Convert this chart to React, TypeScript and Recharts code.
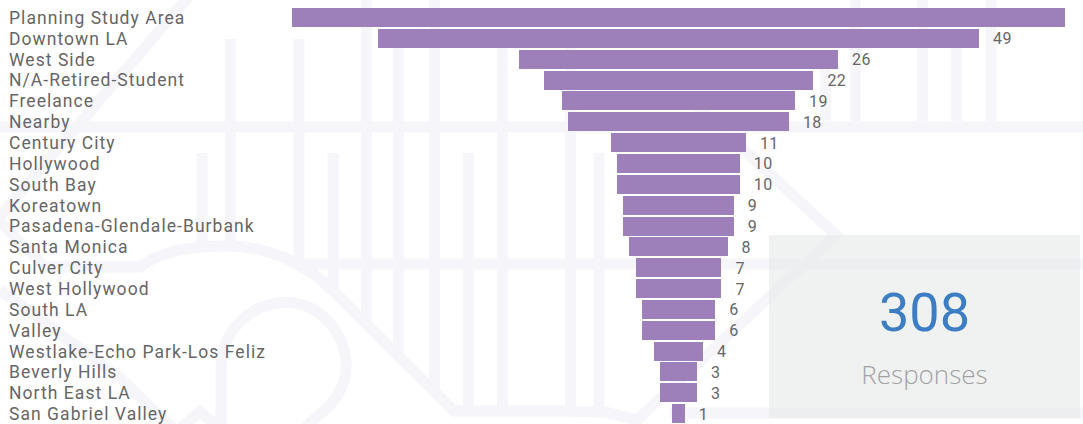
import { BarChart, Bar, XAxis, YAxis, LabelList, Rectangle } from 'recharts';

const areas = [
    'Planning Study Area', 'Downtown LA', 'West Side', 'N/A-Retired-Student', 'Freelance',
    'Nearby', 'Century City', 'Hollywood', 'South Bay', 'Koreatown',
    'Pasadena-Glendale-Burbank', 'Santa Monica', 'Culver City', 'West Hollywood', 'South LA',
    'Valley', 'Westlake-Echo Park-Los Feliz', 'Beverly Hills', 'North East LA', 'San Gabriel Valley',
];
const responses = [63, 49, 26, 22, 19, 18, 11, 10, 10, 9, 9, 8, 7, 7, 6, 6, 4, 3, 3, 1];

// funnel: each bar is a range centred on zero
const chartData = areas.map((name, i) => ({
    name,
    range: [-responses[i] / 2, responses[i] / 2],
}));

const FONT = 'Roboto, sans-serif';
const TEXT = '#666666';

// faint street map behind the chart
const streets = [
    'M0,127 H1083',
    'M300,264 H1083',
    'M670,413 H1083',
    'M366.5,0 V324', 'M434.5,0 V391', 'M855.5,0 V121', 'M922.5,0 V121', 'M991,0 V121',
    'M230.5,39 V246', 'M299,39 V262', 'M398.5,39 V356', 'M502.5,39 V411', 'M570.5,39 V411',
    'M956.5,39 V121', 'M825.5,50 V121',
    'M202,153 V246', 'M333,153 V290', 'M468.5,153 V411', 'M599,153 V411',
    'M190,-5 L-5,222',
    'M0,290 L120,378 L180,435',
    'M178,430 L200,412 L222,430',
    'M-5,217 L45,267 H140 C165,248 200,246 230,246 C258,246 300,258 330,288 L454,411 H563 L605,412 L637,420 L836,235 L694,104',
    'M221,430 V368 C221,332 250,302.5 286,302.5 C322,302.5 346,335 346,367 C346,385 338,398 325,410 L305,427',
];

function MapBackground() {
    return (
        <svg width={1083} height={424} style={{ position: 'absolute', left: 0, top: 0 }}>
            {streets.map((d, i) => (
                <path key={i} d={d} fill="none" stroke="#f5f5fa" strokeWidth={11} />
            ))}
        </svg>
    );
}

function AreaTick({ y, payload }: any) {
    return (
        <text x={9} y={y} dy={6.5} fontFamily={FONT} fontSize={17.5} letterSpacing={1.05} fill={TEXT}>
            {payload.value}
        </text>
    );
}

function ValueLabel({ x, y, width, height, index }: any) {
    // the widest bar has no room for its label
    if (index === 0) return null;
    return (
        <text x={x + width + 14} y={y + height / 2} dy={6} fontFamily={FONT} fontSize={16} letterSpacing={0.4} fill={TEXT}>
            {responses[index]}
        </text>
    );
}

function SnappedBar(props: any) {
    const left = Math.round(props.x);
    const right = Math.round(props.x + props.width);
    return <Rectangle {...props} x={left} width={right - left} y={Math.round(props.y)} />;
}

export default function App() {
    return (
        <div style={{ position: 'absolute', left: 0, top: 0, width: 1083, height: 424, overflow: 'hidden', background: '#fff' }}>
            <MapBackground />
            <div style={{ position: 'absolute', left: 0, top: 0 }}>
                <BarChart
                    width={1083}
                    height={424}
                    data={chartData}
                    layout="vertical"
                    margin={{ top: 7, right: 18, bottom: 0, left: 0 }}
                    barSize={19}
                >
                    <XAxis type="number" domain={[-31.5, 31.5]} hide />
                    <YAxis
                        type="category"
                        dataKey="name"
                        width={292}
                        interval={0}
                        axisLine={false}
                        tickLine={false}
                        tick={AreaTick}
                    />
                    <Bar dataKey="range" fill="#9d7fba" shape={SnappedBar} isAnimationActive={false}>
                        <LabelList dataKey="range" content={ValueLabel} />
                    </Bar>
                </BarChart>
            </div>
            <div
                style={{
                    position: 'absolute', left: 769, top: 235, width: 311, height: 183,
                    background: 'rgba(230,233,233,0.6)', textAlign: 'center',
                }}
            >
                <div style={{ position: 'absolute', left: 0, right: 0, top: 46, fontFamily: FONT, fontSize: 54, lineHeight: '64px', color: '#3d7dc3' }}>
                    308
                </div>
                <div style={{ position: 'absolute', left: 0, right: 0, top: 119, fontFamily: '"Open Sans", sans-serif', fontWeight: 300, fontSize: 26, lineHeight: '40px', color: '#a2a2a2' }}>
                    Responses
                </div>
            </div>
        </div>
    );
}
